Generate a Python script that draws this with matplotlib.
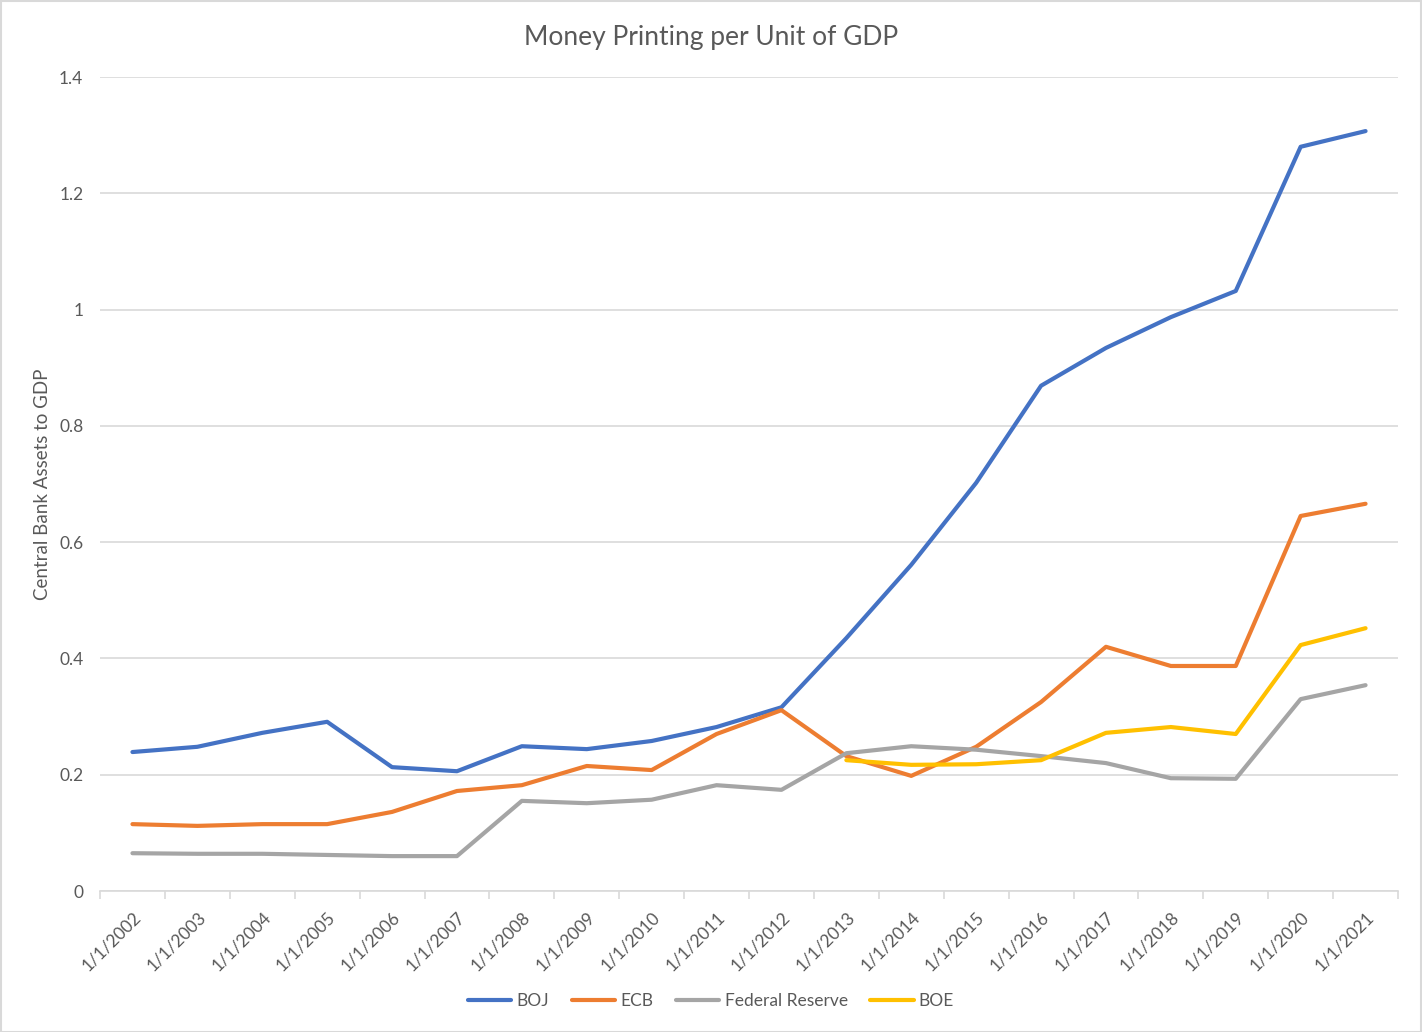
import numpy as np
import matplotlib.pyplot as plt
from matplotlib.patches import Rectangle

years = ['1/1/%d' % y for y in range(2002, 2022)]

boj = [0.239, 0.248, 0.272, 0.291, 0.213, 0.206, 0.249, 0.244, 0.258, 0.282,
       0.316, 0.435, 0.561, 0.702, 0.869, 0.934, 0.987, 1.032, 1.280, 1.307]
ecb = [0.115, 0.112, 0.115, 0.115, 0.136, 0.172, 0.182, 0.215, 0.208, 0.270,
       0.311, 0.232, 0.198, 0.248, 0.325, 0.420, 0.387, 0.387, 0.645, 0.666]
fed = [0.065, 0.064, 0.064, 0.062, 0.060, 0.060, 0.155, 0.151, 0.157, 0.182,
       0.174, 0.237, 0.249, 0.243, 0.232, 0.220, 0.194, 0.193, 0.330, 0.354]
# BOE series only starts in 2013
boe = [np.nan] * 11 + [0.225, 0.217, 0.218, 0.225, 0.272, 0.282, 0.270, 0.423, 0.452]

series = [('BOJ', boj, '#4472C4'), ('ECB', ecb, '#ED7D31'),
          ('Federal Reserve', fed, '#A5A5A5'), ('BOE', boe, '#FFC000')]

plt.rcParams['font.family'] = ['Lato', 'DejaVu Sans']
txt = '#595959'

fig = plt.figure(figsize=(14.22, 10.32), dpi=100)
ax = fig.add_axes([100/1422, 1 - 891/1032, 1298/1422, 814/1032])

x = np.arange(len(years))
for name, vals, col in series:
    ax.plot(x, vals, color=col, lw=3, solid_capstyle='round',
            solid_joinstyle='round', label=name)

ax.set_xlim(-0.5, len(years) - 0.5)
ax.set_ylim(0, 1.4)
ax.set_yticks(np.arange(0, 1.41, 0.2))
ax.set_yticklabels(['0', '0.2', '0.4', '0.6', '0.8', '1', '1.2', '1.4'])
ax.set_xticks(x)
ax.set_xticklabels(years, rotation=45, ha='right', rotation_mode='anchor')
ax.set_xticks(np.arange(-0.5, len(years), 1), minor=True)
ax.tick_params(axis='x', which='major', length=0, pad=13, labelsize=12.5, colors=txt)
ax.tick_params(axis='x', which='minor', length=6, color='#D9D9D9', width=1.2)
ax.tick_params(axis='y', length=0, pad=12, labelsize=12.5, colors=txt)

ax.grid(axis='y', color='#D9D9D9', lw=1.2)
ax.set_axisbelow(True)
for s in ['top', 'right', 'left']:
    ax.spines[s].set_visible(False)
ax.spines['bottom'].set_color('#D9D9D9')
ax.spines['bottom'].set_linewidth(1.2)

fig.text(711/1422, 1 - 37/1032, 'Money Printing per Unit of GDP', fontsize=19,
         color=txt, ha='center', va='center')
ax.set_ylabel('Central Bank Assets to GDP', fontsize=13.5, color=txt, labelpad=6)

ax.legend(loc='center', bbox_to_anchor=(711/1422, 1 - 1001/1032),
          bbox_transform=fig.transFigure, ncol=4, frameon=False,
          fontsize=12.5, labelcolor=txt, handlelength=2.5, columnspacing=1.3,
          handletextpad=0.3)

fig.patches.append(Rectangle((0.5/1422, 0.5/1032), 1 - 1.5/1422, 1 - 1.5/1032,
                             transform=fig.transFigure, fill=False,
                             edgecolor='#D9D9D9', lw=1.5))

fig.savefig('out.png', dpi=100)
